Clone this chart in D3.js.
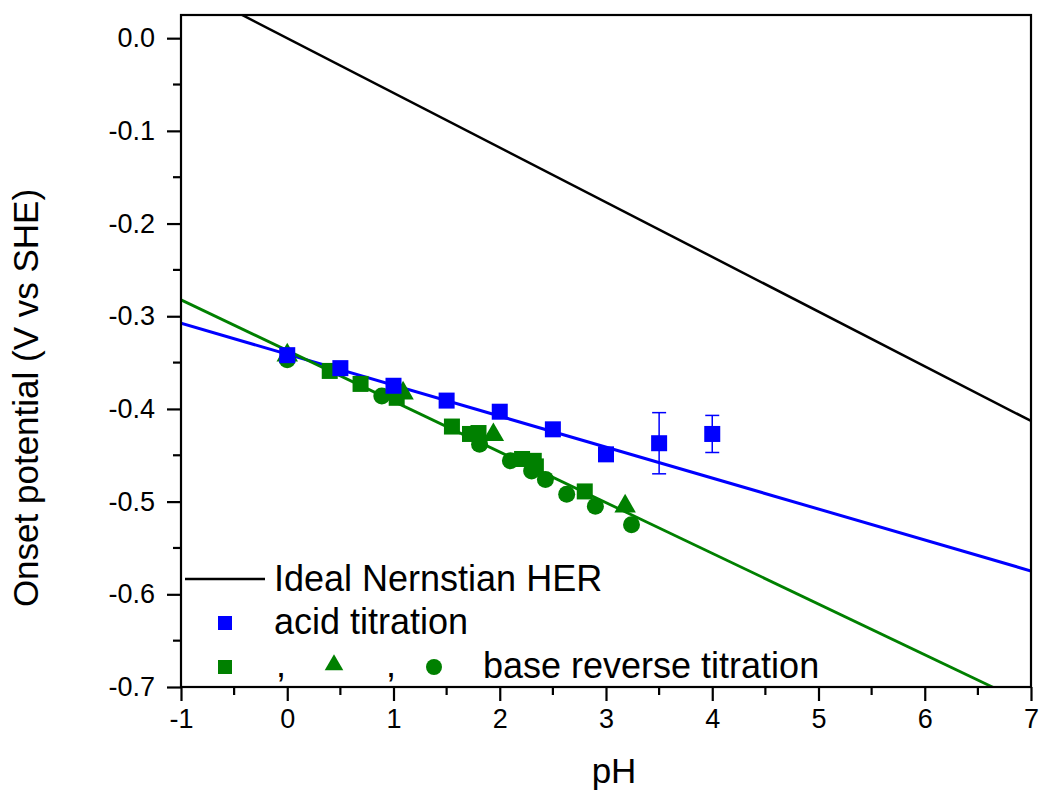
<!DOCTYPE html>
<html>
<head>
<meta charset="utf-8">
<script src="https://cdn.jsdelivr.net/npm/d3@7"></script>
<style>
  body { margin: 0; background: #fff; }
  text { font-family: "Liberation Sans", Arial, sans-serif; fill: #000; }
</style>
</head>
<body>
<div id="chart"></div>
<script>
// acid titration (blue squares)
const acidPH = [0, 0.5, 1, 1.5, 2, 2.5, 3, 3.5, 4];
const acidE = [-0.342, -0.356, -0.375, -0.391, -0.403, -0.422, -0.449, -0.437, -0.427];
const acidErr = [0, 0, 0, 0, 0, 0, 0, 0.033, 0.020];

// base reverse titration, three runs (green)
const baseSqPH = [0.40, 0.69, 1.03, 1.55, 1.72, 1.80, 2.21, 2.32, 2.34, 2.80];
const baseSqE = [-0.359, -0.373, -0.388, -0.419, -0.427, -0.426, -0.454, -0.456, -0.462, -0.489];
const baseTriPH = [0, 1.09, 1.94, 3.18];
const baseTriE = [-0.342, -0.383, -0.428, -0.505];
const baseCirPH = [0, 0.89, 1.81, 2.10, 2.30, 2.43, 2.63, 2.90, 3.24];
const baseCirE = [-0.347, -0.386, -0.438, -0.456, -0.467, -0.476, -0.492, -0.505, -0.525];

// linear fits: [intercept, slope]
const nernstFit = [0, -0.059];
const acidFit = [-0.341, -0.0334];
const baseFit = [-0.337, -0.0547];

const xTicks = [-1, 0, 1, 2, 3, 4, 5, 6, 7];
const yTicks = [-0.7, -0.6, -0.5, -0.4, -0.3, -0.2, -0.1, 0.0];

const width = 1039, height = 793;
const marginLeft = 181, marginRight = 1031, marginTop = 15, marginBottom = 687;
const blue = "#0000ff", green = "#008000";

const svg = d3.select("#chart").append("svg")
    .attr("width", width)
    .attr("height", height);

const x = d3.scaleLinear().domain([-1, 7]).range([marginLeft, marginRight]);
const y = d3.scaleLinear().domain([-0.7, 0.025]).range([marginBottom, marginTop]);

svg.append("clipPath").attr("id", "plotclip")
  .append("rect")
    .attr("x", marginLeft).attr("y", marginTop)
    .attr("width", marginRight - marginLeft).attr("height", marginBottom - marginTop);

const plot = svg.append("g").attr("clip-path", "url(#plotclip)");

// fit lines
function fitLine(fit, color, w) {
    const xs = [-1, 7];
    plot.append("path")
        .attr("d", d3.line().x(d => x(d)).y(d => y(fit[0] + fit[1] * d))(xs))
        .attr("stroke", color)
        .attr("stroke-width", w)
        .attr("fill", "none");
}
fitLine(nernstFit, "#000", 2.5);
fitLine(acidFit, blue, 3);
fitLine(baseFit, green, 2.8);

// markers
function zip(a, b) { return a.map((v, i) => [v, b[i]]); }

const sq = 16;
plot.selectAll(".bsq").data(zip(baseSqPH, baseSqE)).enter().append("rect")
    .attr("x", d => x(d[0]) - sq / 2).attr("y", d => y(d[1]) - sq / 2)
    .attr("width", sq).attr("height", sq)
    .attr("fill", green);

plot.selectAll(".btri").data(zip(baseTriPH, baseTriE)).enter().append("path")
    .attr("transform", d => `translate(${x(d[0])},${y(d[1])})`)
    .attr("d", d3.symbol(d3.symbolTriangle, 200)())
    .attr("fill", green);

plot.selectAll(".bcir").data(zip(baseCirPH, baseCirE)).enter().append("circle")
    .attr("cx", d => x(d[0])).attr("cy", d => y(d[1]))
    .attr("r", 8.5)
    .attr("fill", green);

// acid error bars
const acid = acidPH.map((p, i) => ({ p: p, e: acidE[i], err: acidErr[i] }));
const eb = plot.selectAll(".err").data(acid.filter(d => d.err > 0)).enter().append("g")
    .attr("stroke", blue).attr("stroke-width", 1.5);
eb.append("line")
    .attr("x1", d => x(d.p)).attr("x2", d => x(d.p))
    .attr("y1", d => y(d.e + d.err)).attr("y2", d => y(d.e - d.err));
eb.append("line")
    .attr("x1", d => x(d.p) - 7).attr("x2", d => x(d.p) + 7)
    .attr("y1", d => y(d.e + d.err)).attr("y2", d => y(d.e + d.err));
eb.append("line")
    .attr("x1", d => x(d.p) - 7).attr("x2", d => x(d.p) + 7)
    .attr("y1", d => y(d.e - d.err)).attr("y2", d => y(d.e - d.err));

plot.selectAll(".asq").data(acid).enter().append("rect")
    .attr("x", d => x(d.p) - sq / 2).attr("y", d => y(d.e) - sq / 2)
    .attr("width", sq).attr("height", sq)
    .attr("fill", blue);

// frame
svg.append("rect")
    .attr("x", marginLeft).attr("y", marginTop)
    .attr("width", marginRight - marginLeft).attr("height", marginBottom - marginTop)
    .attr("fill", "none").attr("stroke", "#000").attr("stroke-width", 2.2);

// axes
const xAxis = d3.axisBottom(x).tickValues(xTicks).tickFormat(d => String(d))
    .tickSize(14).tickPadding(8);
const gx = svg.append("g").attr("transform", `translate(0,${marginBottom})`).call(xAxis);
gx.select(".domain").remove();
gx.selectAll("line").attr("stroke-width", 2.2);
gx.selectAll("text").style("font-size", "27px").attr("font-family", null);

const xMinor = d3.range(-0.5, 7, 1);
svg.append("g").selectAll("line").data(xMinor).enter().append("line")
    .attr("x1", d => x(d)).attr("x2", d => x(d))
    .attr("y1", marginBottom).attr("y2", marginBottom + 8)
    .attr("stroke", "#000").attr("stroke-width", 2.2);

const yAxis = d3.axisLeft(y).tickValues(yTicks).tickFormat(d => d.toFixed(1))
    .tickSize(14).tickPadding(12);
const gy = svg.append("g").attr("transform", `translate(${marginLeft},0)`).call(yAxis);
gy.select(".domain").remove();
gy.selectAll("line").attr("stroke-width", 2.2);
gy.selectAll("text").style("font-size", "27px").attr("font-family", null);

const yMinor = d3.range(-0.65, 0.01, 0.1);
svg.append("g").selectAll("line").data(yMinor).enter().append("line")
    .attr("x1", marginLeft - 8).attr("x2", marginLeft)
    .attr("y1", d => y(d)).attr("y2", d => y(d))
    .attr("stroke", "#000").attr("stroke-width", 2.2);

// axis titles
svg.append("text")
    .attr("x", (marginLeft + marginRight) / 2 + 8).attr("y", 783)
    .attr("text-anchor", "middle")
    .style("font-size", "35px")
    .text("pH");

svg.append("text")
    .attr("transform", "translate(38,398) rotate(-90)")
    .attr("text-anchor", "middle")
    .style("font-size", "35px")
    .text("Onset potential (V vs SHE)");

// legend
const lg = svg.append("g");
lg.append("line")
    .attr("x1", 185).attr("x2", 265).attr("y1", 579).attr("y2", 579)
    .attr("stroke", "#000").attr("stroke-width", 2.5);
lg.append("text").attr("x", 274).attr("y", 591).style("font-size", "36px")
    .text("Ideal Nernstian HER");

lg.append("rect").attr("x", 225 - 7).attr("y", 623 - 7)
    .attr("width", 14).attr("height", 14).attr("fill", blue);
lg.append("text").attr("x", 274).attr("y", 634).style("font-size", "36px")
    .text("acid titration");

lg.append("rect").attr("x", 225 - 7).attr("y", 667 - 7)
    .attr("width", 14).attr("height", 14).attr("fill", green);
lg.append("text").attr("x", 276).attr("y", 677).style("font-size", "36px").text(",");
lg.append("path").attr("transform", "translate(334,665)")
    .attr("d", d3.symbol(d3.symbolTriangle, 150)()).attr("fill", green);
lg.append("text").attr("x", 386).attr("y", 677).style("font-size", "36px").text(",");
lg.append("circle").attr("cx", 434).attr("cy", 667).attr("r", 8).attr("fill", green);
lg.append("text").attr("x", 483).attr("y", 678).style("font-size", "36px")
    .text("base reverse titration");
</script>
</body>
</html>
